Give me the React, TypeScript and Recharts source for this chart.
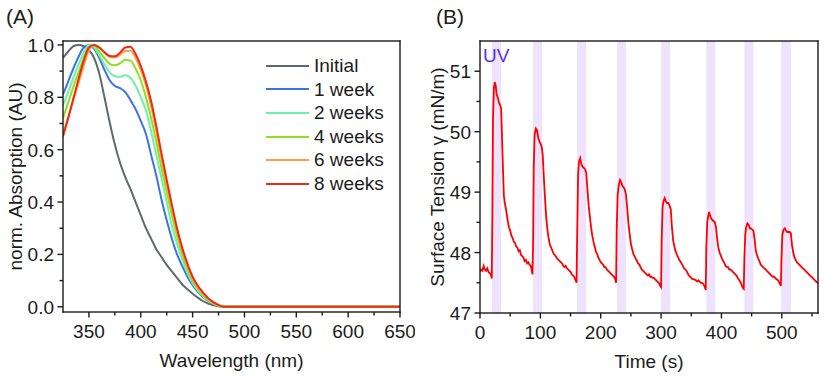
import { Legend, Line, LineChart, ReferenceArea, XAxis, YAxis } from "recharts";

const FONT = '"Liberation Sans", Arial, Helvetica, sans-serif';
const INK = "#1b1b1b";

// (A) normalised absorption, every 5 nm from 325 to 480 nm, then flat to 650 nm
const wavelengths = [
  325, 330, 335, 340, 345, 350, 355, 360, 365, 370, 375, 380, 385, 390, 395, 400,
  405, 410, 415, 420, 425, 430, 435, 440, 445, 450, 455, 460, 465, 470, 475, 480, 650,
];
const initial = [
  0.95, 0.975, 0.995, 1.0, 0.995, 0.98, 0.95, 0.89, 0.8, 0.705, 0.62, 0.55, 0.495, 0.45, 0.4, 0.35,
  0.3, 0.26, 0.22, 0.19, 0.16, 0.135, 0.11, 0.085, 0.067, 0.05, 0.035, 0.022, 0.012, 0.006, 0.002, 0, 0,
];
const week1 = [
  0.81, 0.86, 0.91, 0.955, 0.99, 1.0, 0.985, 0.95, 0.905, 0.865, 0.843, 0.835, 0.82, 0.79, 0.755, 0.71,
  0.66, 0.58, 0.5, 0.41, 0.33, 0.26, 0.2, 0.155, 0.115, 0.082, 0.057, 0.037, 0.022, 0.011, 0.004, 0, 0,
];
const weeks2 = [
  0.77, 0.82, 0.875, 0.925, 0.97, 1.0, 0.99, 0.96, 0.925, 0.895, 0.88, 0.878, 0.884, 0.875, 0.845, 0.8,
  0.75, 0.67, 0.58, 0.49, 0.4, 0.31, 0.24, 0.18, 0.13, 0.09, 0.062, 0.04, 0.024, 0.012, 0.004, 0, 0,
];
const weeks4 = [
  0.72, 0.78, 0.84, 0.895, 0.95, 0.99, 0.998, 0.975, 0.95, 0.928, 0.922, 0.93, 0.943, 0.94, 0.91, 0.865,
  0.8, 0.72, 0.63, 0.53, 0.44, 0.35, 0.27, 0.2, 0.145, 0.1, 0.068, 0.045, 0.027, 0.014, 0.005, 0, 0,
];
const weeks6 = [
  0.66, 0.725, 0.79, 0.855, 0.92, 0.98, 1.0, 0.99, 0.97, 0.955, 0.952, 0.962, 0.977, 0.978, 0.95, 0.905,
  0.845, 0.765, 0.67, 0.565, 0.465, 0.375, 0.29, 0.215, 0.155, 0.108, 0.072, 0.05, 0.03, 0.016, 0.006, 0, 0,
];
const weeks8 = [
  0.65, 0.72, 0.795, 0.87, 0.94, 0.99, 1.0, 0.99, 0.972, 0.958, 0.957, 0.97, 0.99, 0.993, 0.965, 0.92,
  0.86, 0.785, 0.69, 0.585, 0.485, 0.39, 0.3, 0.225, 0.165, 0.115, 0.08, 0.055, 0.033, 0.018, 0.007, 0, 0,
];

const spectra = [
  { key: "initial", name: "Initial", color: "#5f6b6b", values: initial },
  { key: "week1", name: "1 week", color: "#3d72e6", values: week1 },
  { key: "weeks2", name: "2 weeks", color: "#6ff0a4", values: weeks2 },
  { key: "weeks4", name: "4 weeks", color: "#8ee01e", values: weeks4 },
  { key: "weeks6", name: "6 weeks", color: "#ffa045", values: weeks6 },
  { key: "weeks8", name: "8 weeks", color: "#ee2a12", values: weeks8 },
];

const wavelengthDomain: [number, number] = [325, 650];
const absorptionDomain: [number, number] = [-0.02, 1.015];
const wavelengthTicks = [350, 375, 400, 425, 450, 475, 500, 525, 550, 575, 600, 625, 650];
const absorptionTicks = [0, 0.1, 0.2, 0.3, 0.4, 0.5, 0.6, 0.7, 0.8, 0.9, 1.0];

// (B) surface tension trace, [time s, mN/m]
const tension: [number, number][] = [
  [0, 47.68], [2, 47.72], [4, 47.7], [6, 47.78], [8, 47.72], [10, 47.7], [12, 47.74], [14, 47.68],
  [16, 47.66], [18, 47.64], [19.5, 47.57],
  [20.5, 48.6], [21.5, 50.2], [23, 50.72], [24.5, 50.82], [26, 50.76], [27.5, 50.62], [29.5, 50.56],
  [31.5, 50.48], [33.5, 50.44], [35, 50.38], [36.5, 49.9], [38, 49.4], [39.5, 48.95], [41, 48.82],
  [42.5, 48.75], [44, 48.66], [46, 48.52], [48, 48.42], [50, 48.36], [52, 48.28], [54, 48.24],
  [56, 48.18], [58, 48.16], [60, 48.1], [62, 48.08], [64, 48.02], [66, 48.04], [68, 47.96],
  [70, 47.94], [72, 47.92], [74, 47.86], [76, 47.88], [78, 47.82], [80, 47.84], [82, 47.8],
  [84, 47.78], [85.5, 47.72], [87, 47.64],
  [88, 48.2], [89, 49.4], [90.5, 49.95], [92.5, 50.05], [94.5, 50.02], [96.5, 49.9], [98.5, 49.84],
  [100.5, 49.8], [102.5, 49.74], [104, 49.6], [106, 49.2], [108, 48.85], [110, 48.55], [112, 48.36],
  [114, 48.22], [116, 48.12], [118, 48.08], [120, 48.03], [122, 47.98], [124, 47.96], [126, 47.93],
  [128, 47.9], [130, 47.88], [132, 47.86], [134, 47.84], [136, 47.82], [138, 47.78], [140, 47.76],
  [142, 47.78], [144, 47.74], [146, 47.72], [148, 47.7], [150, 47.68], [152, 47.64], [154, 47.62],
  [156, 47.6], [158, 47.55], [160, 47.5],
  [161, 48.3], [162.5, 49.3], [164, 49.5], [166, 49.56], [168, 49.46], [170, 49.42], [172, 49.4],
  [174, 49.38], [176, 49.32], [178, 49.05], [180, 48.78], [182, 48.6], [184, 48.42], [186, 48.28],
  [188, 48.18], [190, 48.1], [192, 48.02], [194, 47.98], [196, 47.92], [198, 47.88], [200, 47.84],
  [202, 47.82], [204, 47.8], [206, 47.76], [208, 47.76], [210, 47.72], [212, 47.7], [214, 47.68],
  [216, 47.66], [218, 47.64], [220, 47.62], [222, 47.6], [224, 47.56], [225.5, 47.5],
  [226.5, 48.4], [228, 48.95], [230, 49.12], [232, 49.2], [234, 49.16], [236, 49.1], [238, 49.08],
  [240, 49.04], [242, 48.95], [244, 48.72], [246, 48.48], [248, 48.3], [250, 48.15], [252, 48.06],
  [254, 47.98], [256, 47.94], [258, 47.9], [260, 47.86], [262, 47.82], [264, 47.8], [266, 47.76],
  [268, 47.72], [270, 47.7], [272, 47.68], [274, 47.66], [276, 47.64], [278, 47.62], [280, 47.64],
  [282, 47.6], [284, 47.6], [286, 47.58], [288, 47.58], [290, 47.56], [292, 47.54], [294, 47.52],
  [296, 47.5], [298, 47.46], [300, 47.43],
  [301, 48.2], [302.5, 48.75], [304, 48.85], [306, 48.9], [308, 48.84], [310, 48.82], [312, 48.82],
  [314, 48.78], [316, 48.72], [318, 48.42], [320, 48.2], [322, 48.1], [324, 48.02], [326, 47.97],
  [328, 47.93], [330, 47.88], [332, 47.85], [334, 47.82], [336, 47.78], [338, 47.74], [340, 47.72],
  [342, 47.7], [344, 47.66], [346, 47.62], [348, 47.6], [350, 47.58], [352, 47.56], [354, 47.56],
  [356, 47.55], [358, 47.54], [360, 47.52], [362, 47.54], [364, 47.52], [366, 47.5], [368, 47.5],
  [370, 47.48], [372, 47.44], [374, 47.38],
  [375, 48.1], [376.5, 48.5], [378, 48.6], [379.5, 48.67], [381, 48.62], [383, 48.56], [385, 48.54],
  [387, 48.52], [389, 48.5], [391, 48.42], [393, 48.22], [395, 48.08], [397, 48.0], [399, 47.95],
  [401, 47.9], [403, 47.86], [405, 47.82], [407, 47.78], [409, 47.76], [411, 47.76], [413, 47.72],
  [415, 47.72], [417, 47.7], [419, 47.68], [421, 47.66], [423, 47.64], [425, 47.62], [427, 47.58],
  [429, 47.55], [431, 47.52], [433, 47.48], [435, 47.42], [437, 47.4],
  [438, 47.9], [439.5, 48.3], [441, 48.42], [443, 48.48], [445, 48.46], [447, 48.4], [449, 48.4],
  [451, 48.38], [453, 48.36], [455, 48.22], [457, 48.02], [459, 47.96], [461, 47.9], [463, 47.86],
  [465, 47.8], [467, 47.78], [469, 47.76], [471, 47.74], [473, 47.72], [475, 47.7], [477, 47.68],
  [479, 47.66], [481, 47.64], [483, 47.62], [485, 47.6], [487, 47.6], [489, 47.58], [491, 47.56],
  [493, 47.55], [495, 47.52], [497, 47.48], [498.5, 47.45],
  [499.5, 47.9], [501, 48.3], [503, 48.38], [505, 48.4], [507, 48.36], [509, 48.34], [511, 48.34],
  [513, 48.34], [515, 48.32], [517, 48.12], [519, 48.0], [521, 47.92], [523, 47.88], [525, 47.84],
  [527, 47.82], [529, 47.8], [531, 47.78], [533, 47.76], [535, 47.74], [537, 47.72], [539, 47.7],
  [541, 47.68], [543, 47.66], [545, 47.64], [547, 47.62], [549, 47.6], [551, 47.58], [553, 47.56],
  [555, 47.54], [557, 47.52], [559, 47.5], [560, 47.5],
];

// UV on windows, seconds
const uvWindows: [number, number][] = [
  [20, 35], [88, 103], [161, 176], [227, 242], [300, 315], [375, 390], [438, 453], [499, 515],
];

const timeDomain: [number, number] = [0, 560];
const tensionDomain: [number, number] = [47, 51.5];
const timeTicks = [0, 50, 100, 150, 200, 250, 300, 350, 400, 450, 500, 550];
const tensionTicks = [47, 47.5, 48, 48.5, 49, 49.5, 50, 50.5, 51];

const spectraRows = wavelengths.map((wl, i) => {
  const row: Record<string, number> = { wl };
  spectra.forEach((s) => {
    row[s.key] = s.values[i];
  });
  return row;
});

const tensionRows = tension.map(([t, v]) => ({ t, v }));

const TICK_SIZE = 5;
const TICK_GAP = 4;
const RULE = 1.4; // frame / tick thickness

type TickProps = { x: number; y: number; payload: { value: number } };

function bottomTick(isMajor: (v: number) => boolean, fmt: (v: number) => string) {
  return ({ x, y, payload }: TickProps) => {
    const axisY = y - TICK_SIZE - TICK_GAP;
    const major = isMajor(payload.value);
    return (
      <g>
        <rect x={x - RULE / 2} y={axisY} width={RULE} height={major ? 5.5 : 3.5} fill={INK} />
        {major ? (
          <text x={x} y={axisY + 26} textAnchor="middle" fontSize={19} fontFamily={FONT} fill={INK}>
            {fmt(payload.value)}
          </text>
        ) : null}
      </g>
    );
  };
}

function leftTick(isMajor: (v: number) => boolean, fmt: (v: number) => string) {
  return ({ x, y, payload }: TickProps) => {
    const axisX = x + TICK_SIZE + TICK_GAP;
    const len = isMajor(payload.value) ? 5.5 : 3.5;
    return (
      <g>
        <rect x={axisX - len} y={y - RULE / 2} width={len} height={RULE} fill={INK} />
        {isMajor(payload.value) ? (
          <text x={axisX - 9} y={y + 7} textAnchor="end" fontSize={19} fontFamily={FONT} fill={INK}>
            {fmt(payload.value)}
          </text>
        ) : null}
      </g>
    );
  };
}

// x-axis title; also draws the boxed plot frame from the axis viewBox
function xTitle(text: string, plotHeight: number) {
  return ({ viewBox }: any) => {
    const left = viewBox.x;
    const right = viewBox.x + viewBox.width;
    const bottom = viewBox.y;
    const top = bottom - plotHeight;
    const h = RULE / 2;
    return (
      <g>
        <rect x={left - h} y={top - h} width={right - left + RULE} height={RULE} fill={INK} />
        <rect x={left - h} y={bottom - h} width={right - left + RULE} height={RULE} fill={INK} />
        <rect x={left - h} y={top - h} width={RULE} height={plotHeight + RULE} fill={INK} />
        <rect x={right - h} y={top - h} width={RULE} height={plotHeight + RULE} fill={INK} />
        <text x={(left + right) / 2} y={bottom + 55} textAnchor="middle" fontSize={19} fontFamily={FONT} fill={INK}>
          {text}
        </text>
      </g>
    );
  };
}

function yTitle(text: string, baseline: number) {
  return ({ viewBox }: any) => {
    const x = viewBox.x + baseline;
    const y = viewBox.y + viewBox.height / 2;
    return (
      <text
        x={x}
        y={y}
        transform={`rotate(-90 ${x} ${y})`}
        textAnchor="middle"
        fontSize={19}
        fontFamily={FONT}
        fill={INK}
      >
        {text}
      </text>
    );
  };
}

function SpectraLegend() {
  return (
    <div style={{ fontFamily: FONT, fontSize: 19, color: INK }}>
      {spectra.map((s) => (
        <div key={s.key} style={{ display: "flex", alignItems: "center", height: 23.6 }}>
          <span style={{ display: "inline-block", width: 43, height: 2, background: s.color, marginRight: 5 }} />
          <span style={{ lineHeight: "23.6px" }}>{s.name}</span>
        </div>
      ))}
    </div>
  );
}

function SpectraChart() {
  return (
    <LineChart width={415} height={377} data={spectraRows} margin={{ top: 41, right: 15, bottom: 5, left: 0 }}>
      <XAxis
        dataKey="wl"
        type="number"
        domain={wavelengthDomain}
        allowDataOverflow
        ticks={wavelengthTicks}
        interval={0}
        height={60}
        tickSize={TICK_SIZE}
        tickMargin={TICK_GAP}
        tickLine={false}
        axisLine={false}
        tick={bottomTick((v) => v % 50 === 0, (v) => String(v))}
        label={{ content: xTitle("Wavelength (nm)", 271) }}
      />
      <YAxis
        type="number"
        domain={absorptionDomain}
        allowDataOverflow
        ticks={absorptionTicks}
        interval={0}
        width={63}
        tickSize={TICK_SIZE}
        tickMargin={TICK_GAP}
        tickLine={false}
        axisLine={false}
        tick={leftTick((v) => Math.round(v * 10) % 2 === 0, (v) => v.toFixed(1))}
        label={{ content: yTitle("norm. Absorption (AU)", 22) }}
      />
      <Legend
        layout="vertical"
        align="center"
        verticalAlign="middle"
        content={<SpectraLegend />}
        wrapperStyle={{ left: 266, top: 54, width: 145 }}
      />
      {spectra.map((s) => (
        <Line
          key={s.key}
          dataKey={s.key}
          name={s.name}
          type="monotone"
          stroke={s.color}
          strokeWidth={2}
          dot={false}
          activeDot={false}
          isAnimationActive={false}
        />
      ))}
    </LineChart>
  );
}

function TensionChart() {
  return (
    <LineChart width={415} height={377} data={tensionRows} margin={{ top: 41, right: 12, bottom: 5, left: 0 }}>
      {uvWindows.map(([x1, x2], i) => (
        <ReferenceArea
          key={x1}
          x1={x1}
          x2={x2}
          fill="#eee2fc"
          fillOpacity={1}
          stroke="none"
          label={
            i === 0
              ? {
                  content: ({ viewBox }: any) => (
                    <text x={viewBox.x - 9} y={viewBox.y + 21} fontSize={19} fontFamily={FONT} fill="#5a30e6">
                      UV
                    </text>
                  ),
                }
              : undefined
          }
        />
      ))}
      <XAxis
        dataKey="t"
        type="number"
        domain={timeDomain}
        allowDataOverflow
        ticks={timeTicks}
        interval={0}
        height={59}
        tickSize={TICK_SIZE}
        tickMargin={TICK_GAP}
        tickLine={false}
        axisLine={false}
        tick={bottomTick((v) => v % 100 === 0, (v) => String(v))}
        label={{ content: xTitle("Time (s)", 272) }}
      />
      <YAxis
        type="number"
        domain={tensionDomain}
        allowDataOverflow
        ticks={tensionTicks}
        interval={0}
        width={65}
        tickSize={TICK_SIZE}
        tickMargin={TICK_GAP}
        tickLine={false}
        axisLine={false}
        tick={leftTick((v) => Number.isInteger(v), (v) => String(v))}
        label={{ content: yTitle("Surface Tension γ (mN/m)", 29) }}
      />
      <Line
        dataKey="v"
        type="linear"
        stroke="#ff0000"
        strokeWidth={1.8}
        dot={false}
        activeDot={false}
        isAnimationActive={false}
      />
    </LineChart>
  );
}

export default function App() {
  return (
    <div style={{ position: "absolute", left: 0, top: 0, width: 830, height: 377, background: "#fff" }}>
      <div style={{ position: "absolute", left: 0, top: 0 }}>
        <SpectraChart />
      </div>
      <div style={{ position: "absolute", left: 415, top: 0 }}>
        <TensionChart />
      </div>
      <svg width={830} height={377} style={{ position: "absolute", left: 0, top: 0, pointerEvents: "none" }}>
        <text x={6} y={24} fontSize={21} fontFamily={FONT} fill={INK}>
          (A)
        </text>
        <text x={436} y={24} fontSize={21} fontFamily={FONT} fill={INK}>
          (B)
        </text>
      </svg>
    </div>
  );
}
